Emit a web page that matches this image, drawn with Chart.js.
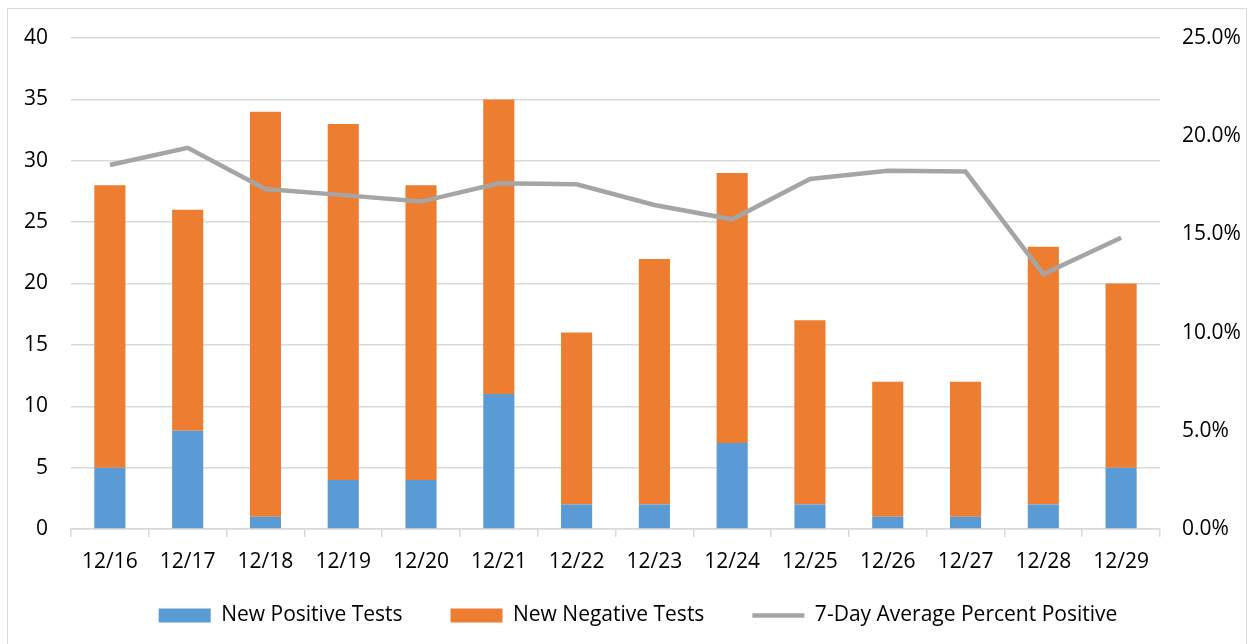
<!DOCTYPE html>
<html>
<head>
<meta charset="utf-8">
<script src="https://cdn.jsdelivr.net/npm/chart.js@4.4.0/dist/chart.umd.min.js"></script>
<style>
  html, body { margin: 0; padding: 0; background: #fff; }
  #wrap { position: relative; width: 1250px; height: 644px; }
  #frame { position: absolute; left: 7px; top: 8px; width: 1240px; height: 645px; border: 1.5px solid #d9d9d9; box-sizing: border-box; pointer-events: none; }
</style>
</head>
<body>
<div id="wrap">
  <canvas id="testsChart" width="1250" height="644"></canvas>
  <div id="frame"></div>
</div>
<script>
// chart data
const dates = ['12/16', '12/17', '12/18', '12/19', '12/20', '12/21', '12/22',
               '12/23', '12/24', '12/25', '12/26', '12/27', '12/28', '12/29'];
const newPositive = [5, 8, 1, 4, 4, 11, 2, 2, 7, 2, 1, 1, 2, 5];
const newNegative = [23, 18, 33, 29, 24, 24, 14, 20, 22, 15, 11, 11, 21, 15];
const avgPercentPositive = [0.1853, 0.1941, 0.1731, 0.1700, 0.1667, 0.1760, 0.1755,
                            0.1650, 0.1577, 0.1782, 0.1824, 0.1820, 0.1298, 0.1483];
const leftTicks = [0, 5, 10, 15, 20, 25, 30, 35, 40];
const rightTicks = [0, 0.05, 0.10, 0.15, 0.20, 0.25];

const FONT = { family: "'Open Sans', sans-serif", size: 21 };
const GRID = '#d9d9d9';
const LEGEND_GAP = 48;

// legend uses a wide horizontal gap; pull its top up so the items sit under the x axis
const legendShift = {
    id: 'legendShift',
    afterLayout(chart) {
        const lg = chart.legend;
        if (!lg) return;
        lg.top -= LEGEND_GAP - 12;
        lg.left += 26;
    }
};

const ctx = document.getElementById('testsChart').getContext('2d');

new Chart(ctx, {
    data: {
        labels: dates,
        datasets: [
            {
                type: 'line',
                label: '7-Day Average Percent Positive',
                data: avgPercentPositive,
                yAxisID: 'yRight',
                borderColor: '#a5a5a5',
                backgroundColor: '#a5a5a5',
                borderWidth: 4.5,
                pointRadius: 0,
                tension: 0,
                order: 0
            },
            {
                type: 'bar',
                label: 'New Positive Tests',
                data: newPositive,
                yAxisID: 'yLeft',
                backgroundColor: '#5b9bd5',
                borderWidth: 0,
                stack: 'tests',
                barPercentage: 0.4,
                categoryPercentage: 1.0,
                order: 1
            },
            {
                type: 'bar',
                label: 'New Negative Tests',
                data: newNegative,
                yAxisID: 'yLeft',
                backgroundColor: '#ed7d31',
                borderWidth: 0,
                stack: 'tests',
                barPercentage: 0.4,
                categoryPercentage: 1.0,
                order: 1
            }
        ]
    },
    options: {
        responsive: false,
        animation: false,
        layout: { padding: { top: 38, bottom: 10, left: 0, right: 0 } },
        scales: {
            x: {
                stacked: true,
                offset: true,
                grid: {
                    display: true,
                    offset: true,
                    drawOnChartArea: false,
                    drawTicks: true,
                    tickLength: 8,
                    color: GRID,
                    lineWidth: 1.5
                },
                border: { display: true, color: GRID, width: 1.5 },
                ticks: { color: '#000', font: FONT, padding: 12, maxRotation: 0 },
                afterFit: (scale) => { scale.height = 64; }
            },
            yLeft: {
                type: 'linear',
                position: 'left',
                stacked: true,
                min: 0,
                max: 40,
                afterBuildTicks: (scale) => { scale.ticks = leftTicks.map(v => ({ value: v })); },
                grid: { color: GRID, lineWidth: 1.5, drawTicks: false },
                border: { display: false },
                ticks: { color: '#000', font: FONT, padding: 23 },
                afterFit: (scale) => { scale.width = 71; }
            },
            yRight: {
                type: 'linear',
                position: 'right',
                min: 0,
                max: 0.25,
                afterBuildTicks: (scale) => { scale.ticks = rightTicks.map(v => ({ value: v })); },
                grid: { display: false, drawTicks: false },
                border: { display: false },
                ticks: {
                    color: '#000',
                    font: FONT,
                    padding: 22,
                    callback: (v) => (v * 100).toFixed(1) + '%'
                },
                afterFit: (scale) => { scale.width = 90; }
            }
        },
        plugins: {
            tooltip: { enabled: false },
            legend: {
                position: 'bottom',
                maxHeight: 41,
                labels: {
                    color: '#000',
                    font: FONT,
                    usePointStyle: true,
                    pointStyleWidth: 52,
                    boxHeight: 14,
                    padding: LEGEND_GAP,
                    sort: (a, b) => {
                        const rank = ['New Positive Tests', 'New Negative Tests', '7-Day Average Percent Positive'];
                        return rank.indexOf(a.text) - rank.indexOf(b.text);
                    },
                    generateLabels: (chart) => {
                        return chart.data.datasets.map((ds, i) => {
                            const isLine = ds.type === 'line';
                            return {
                                text: ds.label,
                                datasetIndex: i,
                                fillStyle: ds.backgroundColor,
                                strokeStyle: isLine ? ds.borderColor : ds.backgroundColor,
                                lineWidth: isLine ? 4.5 : 0,
                                pointStyle: isLine ? 'line' : 'rect',
                                fontColor: '#000',
                                hidden: false
                            };
                        });
                    }
                }
            }
        }
    },
    plugins: [legendShift]
});
</script>
</body>
</html>
